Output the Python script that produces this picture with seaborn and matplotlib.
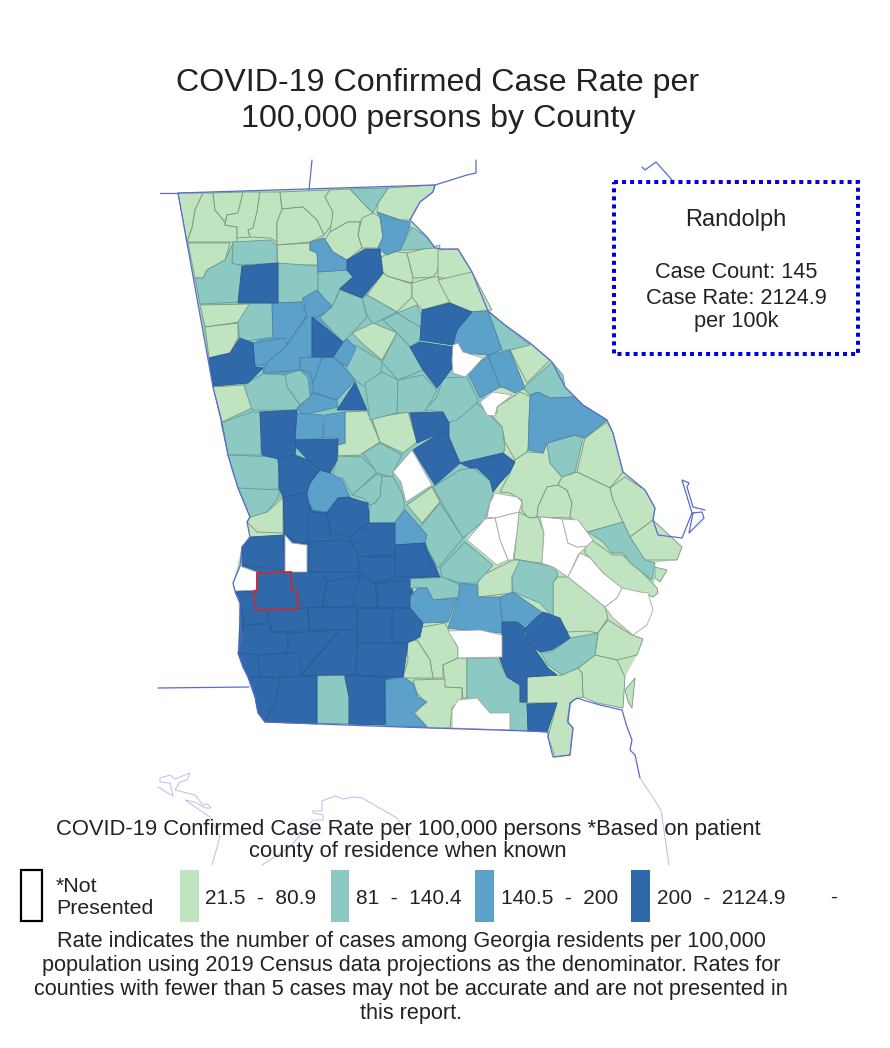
import matplotlib
matplotlib.use('Agg')
import matplotlib.pyplot as plt
from matplotlib.patches import Rectangle
import seaborn as sns

# county outlines, one list per rate class (x, y in picture pixels)
low_counties = [
    [(178,193),(203,193),(195,210),(192,228),(187,242)],
    [(203,193),(213,193),(215,210),(225,222),(225,225),(237,227),(237,242),(187,242),(192,228),(195,210)],
    [(213,193),(243,192),(238,213),(227,215),(225,222),(215,210)],
    [(243,192),(260,192),(257,212),(253,228),(248,230),(250,237),(237,238),(237,227),(225,225),(227,215),(238,213)],
    [(260,192),(280,192),(282,210),(277,222),(277,242),(270,238),(250,237),(248,230),(253,228),(257,212)],
    [(280,192),(330,190),(325,197),(333,212),(333,223),(324,235),(317,220),(303,207),(282,209)],
    [(282,209),(303,207),(317,220),(324,235),(310,242),(277,245),(277,222)],
    [(330,190),(350,189),(363,203),(373,213),(360,222),(348,222),(330,232),(333,212),(325,197)],
    [(388,188),(435,185),(433,192),(420,202),(410,220),(400,220),(377,212),(378,203)],
    [(362,218),(373,213),(380,217),(383,237),(378,248),(362,248),(358,235)],
    [(330,232),(348,222),(360,222),(358,235),(362,248),(347,260),(333,252),(325,240)],
    [(277,245),(310,243),(310,250),(317,253),(318,265),(278,265)],
    [(188,243),(230,243),(225,260),(207,270),(203,278),(195,278)],
    [(380,258),(392,251),(407,253),(413,277),(412,283),(387,276),(380,270)],
    [(407,253),(440,245),(438,270),(433,277),(415,278),(413,277)],
    [(438,250),(458,249),(472,272),(453,280),(438,277)],
    [(383,273),(387,276),(412,284),(412,297),(397,312),(367,295)],
    [(412,283),(433,277),(438,277),(450,302),(422,310),(412,297)],
    [(438,280),(472,272),(492,310),(470,312),(450,303)],
    [(200,305),(250,304),(240,322),(205,327)],
    [(205,327),(238,323),(238,338),(230,353),(209,358)],
    [(213,387),(244,385),(252,408),(222,422)],
    [(352,333),(373,323),(397,333),(382,360),(364,345)],
    [(345,412),(367,411),(380,442),(360,455),(338,456),(338,445),(345,443)],
    [(372,418),(408,412),(417,442),(403,453),(380,442)],
    [(250,517),(267,512),(277,503),(283,497),(283,533),(257,532),(247,522)],
    [(407,505),(432,487),(440,502),(422,523)],
    [(510,350),(530,343),(550,360),(527,383)],
    [(497,407),(520,392),(532,397),(529,420),(530,443),(527,452),(515,460),(505,442),(502,427),(492,416),(497,413)],
    [(585,438),(607,422),(613,433),(623,472),(610,488),(577,472)],
    [(515,460),(527,452),(543,453),(547,443),(550,463),(562,477),(558,485),(547,487),(538,507),(537,517),(528,518),(522,510),(522,500),(510,493),(500,492),(510,473)],
    [(547,487),(558,485),(567,490),(572,503),(570,518),(537,517),(538,507)],
    [(562,477),(577,472),(610,488),(613,500),(623,522),(588,532),(570,517),(572,503),(567,490),(558,485)],
    [(610,488),(625,477),(645,490),(655,508),(653,520),(630,537),(623,522),(613,500)],
    [(630,537),(653,520),(682,547),(677,560),(645,560),(640,553)],
    [(655,567),(667,570),(660,582),(655,578)],
    [(585,543),(593,541),(613,555),(622,555),(635,565),(657,588),(658,593),(653,597),(640,592),(627,592),(615,583),(603,573),(590,558),(585,553)],
    [(519,512),(530,518),(538,517),(544,533),(542,563),(532,562),(514,559),(517,532)],
    [(478,577),(483,575),(513,560),(520,560),(520,570),(512,577),(512,593),(478,597)],
    [(553,582),(558,577),(568,577),(588,593),(605,607),(608,618),(598,633),(587,631),(568,632),(553,617)],
    [(417,628),(445,623),(458,648),(458,658),(443,665),(443,678),(433,678),(430,660),(417,640)],
    [(407,642),(417,640),(430,660),(433,678),(403,678),(408,660)],
    [(443,665),(458,658),(467,658),(467,698),(463,698),(462,688),(445,687)],
    [(413,680),(445,679),(445,687),(462,688),(462,698),(452,708),(450,728),(428,728),(415,713),(425,702),(417,693)],
    [(598,633),(608,620),(632,635),(643,639),(637,655),(617,660),(595,655)],
    [(578,668),(595,655),(617,660),(625,677),(623,708),(597,703),(583,697),(582,673)],
    [(527,677),(562,675),(578,668),(582,673),(583,697),(573,700),(570,703),(567,722),(573,728),(570,755),(555,757),(548,737),(557,703),(527,703)],
    [(625,690),(635,678),(632,708),(628,702)],
]

mid_counties = [
    [(350,189),(388,188),(378,203),(373,213),(363,203)],
    [(400,250),(412,227),(427,237),(435,248),(410,250)],
    [(233,242),(270,240),(277,245),(277,263),(238,265),(232,263),(232,253)],
    [(233,243),(232,263),(242,266),(238,302),(200,304),(195,278),(203,278),(207,270),(225,260)],
    [(278,263),(318,266),(318,300),(303,298),(302,302),(278,303)],
    [(318,272),(347,270),(353,277),(340,288),(333,305),(318,298)],
    [(362,298),(367,295),(397,312),(373,324),(367,315)],
    [(340,290),(362,298),(367,317),(352,333),(343,342),(320,318),(333,305)],
    [(250,303),(272,303),(273,337),(240,342),(238,322)],
    [(343,367),(355,345),(382,361),(381,372),(365,387),(355,380)],
    [(397,313),(417,305),(423,320),(422,328),(408,320)],
    [(383,320),(397,313),(408,320),(422,328),(420,340),(410,347),(397,333)],
    [(397,333),(410,347),(423,370),(398,380),(382,362)],
    [(488,311),(505,325),(530,345),(510,350),(502,350)],
    [(523,388),(552,362),(563,375),(565,387),(575,397),(550,398),(538,392),(530,395)],
    [(547,443),(575,435),(583,438),(575,472),(562,477),(550,463)],
    [(285,375),(300,370),(308,378),(310,397),(300,405),(287,387)],
    [(244,385),(263,374),(285,375),(287,387),(300,405),(297,410),(252,410)],
    [(221,423),(252,412),(260,412),(261,455),(228,455)],
    [(228,455),(278,457),(279,489),(257,490),(238,488),(233,472)],
    [(238,488),(280,490),(277,500),(267,512),(250,517),(243,500)],
    [(332,477),(338,456),(362,457),(377,472),(353,495),(348,488),(343,478)],
    [(352,495),(377,474),(382,476),(380,497),(375,503),(370,505),(363,498)],
    [(382,476),(393,477),(402,493),(405,508),(395,523),(369,523),(370,505),(375,503),(380,497)],
    [(363,453),(380,443),(402,455),(393,472),(393,477),(377,473)],
    [(365,383),(382,372),(398,380),(397,413),(370,420)],
    [(398,380),(423,375),(437,390),(425,412),(397,413)],
    [(449,423),(477,403),(492,417),(502,427),(505,448),(503,453),(460,463),(448,435)],
    [(425,410),(437,397),(443,378),(467,377),(478,400),(477,403),(457,420),(445,423),(443,412)],
    [(433,487),(460,470),(473,468),(493,483),(493,493),(485,520),(463,538),(452,520)],
    [(420,527),(440,503),(453,523),(463,538),(438,568),(428,550)],
    [(440,568),(465,542),(493,565),(477,583),(460,583),(442,577)],
    [(520,560),(555,567),(558,575),(553,583),(553,617),(540,603),(513,592),(512,577)],
    [(410,579),(443,577),(460,585),(460,597),(433,600),(427,588),(410,588)],
    [(588,532),(623,522),(630,537),(645,560),(655,563),(652,580),(630,563),(623,553),(612,553),(603,542)],
    [(317,676),(344,675),(349,697),(349,724),(317,723)],
    [(467,658),(497,658),(507,677),(520,685),(520,702),(527,703),(528,731),(510,730),(510,715),(490,713),(477,700),(467,698)],
    [(540,652),(552,652),(570,638),(598,633),(595,655),(578,668),(562,675),(548,665)],
]

high_counties = [
    [(377,212),(400,220),(410,222),(410,227),(400,250),(387,255),(378,248),(383,237),(380,217)],
    [(310,242),(324,238),(333,252),(347,260),(347,270),(318,272),(317,253),(310,250)],
    [(452,333),(470,312),(488,311),(502,350),(488,355),(463,353),(453,343)],
    [(468,373),(488,355),(500,387),(480,398)],
    [(488,355),(510,350),(525,388),(515,393),(505,388),(500,387)],
    [(530,395),(538,392),(550,398),(575,397),(583,405),(607,420),(585,438),(575,435),(547,443),(543,453),(528,450),(529,420)],
    [(272,303),(302,302),(307,315),(288,343),(273,337)],
    [(303,298),(317,290),(332,307),(318,317),(312,317),(312,357),(300,358),(300,370),(263,373),(267,363),(285,347),(307,317)],
    [(253,343),(285,338),(287,345),(267,363),(255,367)],
    [(347,339),(356,348),(347,367),(333,357),(342,343)],
    [(300,358),(320,357),(322,367),(313,383),(310,372),(300,370)],
    [(322,358),(333,357),(347,370),(355,380),(337,400),(313,392),(313,383)],
    [(312,393),(337,400),(338,407),(303,415),(297,408),(310,397)],
    [(297,413),(323,415),(323,438),(295,440)],
    [(325,415),(345,412),(345,443),(338,445),(338,438),(323,438)],
    [(320,470),(330,473),(342,480),(350,497),(338,498),(327,512),(313,510),(305,495),(310,483)],
    [(395,522),(405,510),(427,535),(425,543),(395,545)],
    [(500,597),(513,592),(543,613),(523,627),(515,622),(503,622),(501,610)],
    [(460,583),(477,585),(478,597),(500,597),(501,610),(503,633),(465,630),(448,628),(458,598)],
    [(409,598),(418,588),(427,588),(433,600),(457,598),(448,622),(423,623),(409,610)],
    [(385,680),(403,677),(413,683),(418,697),(427,702),(413,713),(427,727),(386,726)],
]

top_counties = [
    [(242,266),(278,263),(278,303),(238,303)],
    [(347,260),(365,249),(380,249),(383,273),(362,298),(340,289),(353,277),(347,270)],
    [(209,358),(230,353),(240,338),(253,343),(255,367),(263,368),(248,383),(213,386)],
    [(312,317),(343,342),(333,357),(312,357)],
    [(355,382),(367,410),(337,410),(352,387)],
    [(422,310),(450,303),(472,312),(457,330),(453,345),(420,340)],
    [(410,347),(420,342),(453,347),(452,357),(453,367),(437,388),(423,370)],
    [(260,412),(297,410),(295,440),(296,447),(295,455),(278,459),(262,455)],
    [(295,440),(338,439),(337,460),(330,473),(320,470),(308,460),(296,447)],
    [(278,459),(295,455),(308,460),(320,470),(310,483),(307,493),(283,497),(279,488),(279,473)],
    [(283,497),(307,493),(310,510),(308,543),(297,543),(285,534)],
    [(308,512),(328,513),(330,533),(332,542),(308,543)],
    [(327,513),(338,498),(348,497),(368,503),(369,522),(350,537),(333,533),(330,528)],
    [(350,537),(368,523),(395,523),(395,555),(358,557)],
    [(395,545),(425,543),(428,560),(440,577),(395,577)],
    [(310,542),(348,540),(357,552),(360,572),(320,572),(308,570)],
    [(358,557),(395,557),(395,578),(376,583),(360,573)],
    [(242,547),(250,537),(283,535),(285,570),(242,565)],
    [(257,573),(291,572),(292,590),(297,592),(298,609),(256,610),(253,592),(257,590)],
    [(235,592),(253,592),(256,610),(268,610),(268,623),(245,625),(240,603)],
    [(268,610),(307,608),(310,630),(272,632)],
    [(291,572),(323,572),(327,582),(322,607),(299,608),(297,592),(291,590)],
    [(327,582),(360,575),(353,607),(323,607)],
    [(360,578),(375,583),(377,607),(357,608),(352,600)],
    [(377,583),(410,580),(410,608),(377,607)],
    [(308,608),(357,607),(357,630),(310,630)],
    [(357,608),(392,608),(392,643),(357,643)],
    [(392,610),(410,608),(423,623),(420,637),(407,643),(392,643)],
    [(243,625),(268,624),(272,632),(288,633),(288,653),(258,655),(238,653),(242,637)],
    [(288,633),(340,630),(300,675),(300,655),(288,653)],
    [(340,630),(357,630),(356,675),(302,675)],
    [(357,643),(408,643),(403,677),(356,675)],
    [(258,655),(300,653),(301,677),(260,677)],
    [(238,653),(258,655),(260,677),(248,677),(243,667)],
    [(248,677),(280,678),(275,703),(265,722),(258,713),(255,697)],
    [(280,677),(317,676),(317,724),(265,722),(275,703)],
    [(345,676),(356,675),(385,678),(385,725),(349,724),(349,697)],
    [(410,413),(443,412),(449,423),(449,437),(440,433),(417,443)],
    [(413,450),(440,433),(448,435),(460,463),(435,485)],
    [(460,463),(503,453),(515,462),(510,472),(500,483),(493,492),(490,480),(477,468),(470,468)],
    [(502,622),(517,622),(525,628),(525,635),(548,668),(557,675),(527,677),(527,702),(520,702),(520,685),(507,677),(495,647),(502,643)],
    [(525,628),(543,612),(560,618),(570,638),(552,650),(540,652),(528,643)],
    [(527,704),(557,703),(547,732),(528,731)],
]

blank_counties = [
    [(453,345),(458,343),(463,352),(483,358),(472,370),(465,377),(453,373),(452,360)],
    [(480,402),(493,392),(512,395),(497,407),(495,416),(487,415)],
    [(393,472),(412,450),(432,485),(406,502),(401,482)],
    [(495,493),(517,497),(522,502),(519,512),(495,518),(487,517),(490,503)],
    [(495,518),(519,512),(517,532),(513,560),(508,560),(500,540)],
    [(467,540),(485,519),(495,518),(500,540),(508,560),(497,565)],
    [(540,517),(562,519),(568,543),(577,547),(587,546),(578,555),(568,577),(553,567),(542,563),(544,533)],
    [(562,519),(578,520),(593,540),(587,546),(577,547),(568,543)],
    [(568,577),(580,553),(590,558),(603,573),(622,588),(617,598),(605,607),(588,593)],
    [(622,588),(640,592),(648,593),(653,610),(647,625),(633,635),(613,618),(605,607),(617,598)],
    [(285,535),(292,543),(307,545),(307,572),(285,572)],
    [(240,566),(257,572),(257,590),(235,591),(233,583)],
    [(448,631),(480,630),(502,635),(502,657),(458,658),(458,647)],
    [(452,710),(458,700),(477,698),(490,713),(510,713),(510,730),(452,728)],
]

selected_county = top_counties[18]

# regions laid under the counties so the seams between traced shapes do not show white
state_under = [(178,193),(435,185),(433,192),(420,202),(410,220),(427,237),(435,248),(442,249),(458,249),(472,272),(488,311),
               (505,325),(530,343),(552,362),(565,387),(583,405),(607,420),(613,433),(623,472),(645,490),(655,508),(653,520),
               (682,547),(677,560),(653,563),(655,578),(653,597),(640,592),(633,635),(643,639),(637,655),(625,677),(623,708),
               (597,703),(583,697),(573,700),(567,722),(573,728),(570,755),(555,757),(548,732),(265,722),(248,677),(238,653),
               (240,603),(233,583),(242,547),(250,537),(247,522),(250,517),(238,488),(228,455),(213,387)]
centre_under = [(195,278),(345,270),(420,330),(470,350),(505,450),(495,490),(465,540),(493,565),(475,590),(410,580),(405,510),(350,497),(320,470),(283,497),(250,517),(228,455),(213,387)]
atlanta_under = [(272,303),(332,307),(343,342),(355,380),(337,400),(297,410),(263,373),(255,345)]
southwest_under = [(283,497),(350,497),(369,510),(395,523),(428,545),(440,577),(410,580),(423,623),(408,643),(403,677),(385,725),(265,722),(248,677),(238,653),(240,603),(235,592),(242,566),(242,547),(283,535)]

# state and neighbour lines
state_outline = [(178,193),(435,185),(433,192),(420,202),(410,220),(427,237),(435,248),(442,249),(458,249),(472,272),(488,311),
                 (505,325),(530,343),(552,362),(565,387),(583,405),(607,420),(613,433),(623,472),(645,490),(655,508),
                 (653,520),(658,535),(682,538),(692,513),(682,480),(689,483),(687,487),(693,507),(705,510)]
florida_line = [(265,722),(400,727),(528,731),(548,732),(548,737),(553,757),(570,755),(573,728),(568,722),(570,703),
                (577,698),(583,700),(600,705),(622,710),(627,727),(632,740),(630,750),(635,755),(640,778)]
west_line = [(265,722),(258,713),(255,697),(248,677),(243,667),(238,653),(242,637),(240,625),(240,603),(235,591),(233,583),
             (240,566),(242,547),(250,537),(247,522),(250,517),(243,500),(238,488),(233,472),(228,455),(222,423),(213,387),(178,193)]
island_line = [(693,513),(702,512),(704,518),(689,533),(693,513)]
north_line = [(160,193),(178,193)]
tn_line = [(312,160),(309,190)]
nc_line = [(435,185),(467,175),(476,173),(476,160)]
sc_line = [(642,167),(645,170),(656,162),(672,180)]
al_line = [(158,688),(249,687)]
faint_a = [(160,778),(170,775),(175,779),(190,773),(187,780),(180,782),(175,790),(195,795),(203,805),(208,804),(211,808),
           (205,808),(195,802),(185,800),(210,817),(220,837),(212,865)]
faint_b = [(158,787),(173,796),(170,783),(160,782),(160,778)]
faint_c = [(262,865),(290,847),(313,820),(323,820),(323,815),(313,813),(313,811),(322,811),(322,801),(335,796),(343,799),
           (352,797),(362,798),(397,818),(410,840)]
faint_d = [(640,778),(661,810),(669,865)]

class_colors = ['#c0e3c0', '#8cc9c3', '#5ca1ca', '#2f69aa']
edge_colors = ['#7b967e', '#6a9a96', '#4f82a8', '#2a5a94']
legend_labels = ['21.5  -  80.9', '81  -  140.4', '140.5  -  200', '200  -  2124.9']
legend_left = [180, 330.5, 475, 631]
legend_text_x = [205, 356, 501, 657]
title_lines = ['COVID-19 Confirmed Case Rate per', '100,000 persons by County']
title_y = [83, 119]
box_lines = ['Case Count: 145', 'Case Rate: 2124.9', 'per 100k']
box_y = [273, 298, 322]
legend_title_lines = ['COVID-19 Confirmed Case Rate per 100,000 persons *Based on patient', 'county of residence when known']
legend_title_y = [830, 852]
note_lines = ['Rate indicates the number of cases among Georgia residents per 100,000',
              'population using 2019 Census data projections as the denominator. Rates for',
              'counties with fewer than 5 cases may not be accurate and are not presented in',
              'this report.']
note_y = [942, 966, 990, 1013]

sns.set_theme(style='white')
plt.rcParams['font.family'] = ['Liberation Sans', 'DejaVu Sans']
ink = '#222222'

fig = plt.figure(figsize=(8.9, 10.48), dpi=100)
ax = fig.add_axes([0, 0, 1, 1])
ax.set_xlim(0, 890)
ax.set_ylim(1048, 0)
ax.axis('off')


def draw_line(points, color='#5a6bd0', lw=0.9):
    xs = [p[0] for p in points]
    ys = [p[1] for p in points]
    sns.lineplot(x=xs, y=ys, ax=ax, sort=False, estimator=None, color=color, linewidth=lw, legend=False, zorder=4)


# underlays
for shape, color in zip([state_under, centre_under, atlanta_under, southwest_under], class_colors):
    ax.fill(*zip(*shape), facecolor=color, edgecolor='none', zorder=1)

# counties
for shapes, color, edge in zip([low_counties, mid_counties, high_counties, top_counties], class_colors, edge_colors):
    for shape in shapes:
        ax.fill(*zip(*shape), facecolor=color, edgecolor=edge, linewidth=0.6, zorder=2)
for shape in blank_counties:
    ax.fill(*zip(*shape), facecolor='white', edgecolor='#a8a8a8', linewidth=0.6, zorder=3)

for line in [state_outline, florida_line, west_line, island_line, north_line, tn_line, nc_line, sc_line, al_line]:
    draw_line(line)
for line in [faint_a, faint_b, faint_c, faint_d]:
    draw_line(line, color='#c0c4ee', lw=0.8)

ax.fill(*zip(*selected_county), facecolor='none', edgecolor='#c0303a', linewidth=1.4, zorder=5)

# title
for line, y in zip(title_lines, title_y):
    ax.text(438, y, line, ha='center', va='center', fontsize=23.2, color=ink)

# hover box
ax.add_patch(Rectangle((614, 182), 244, 172, facecolor='white', edgecolor='#0000dd', linewidth=2.9,
                       linestyle=(0, (1, 1)), zorder=6))
ax.text(736, 220, 'Randolph', ha='center', va='center', fontsize=17, color=ink, zorder=7)
for line, y in zip(box_lines, box_y):
    ax.text(736, y, line, ha='center', va='center', fontsize=15.7, color=ink, zorder=7)

# legend
for line, y in zip(legend_title_lines, legend_title_y):
    ax.text(408, y, line, ha='center', va='center', fontsize=15.8, color=ink, zorder=7)
ax.add_patch(Rectangle((21, 870), 21, 51, facecolor='white', edgecolor='black', linewidth=1.6, zorder=7))
ax.text(56, 886, '*Not', ha='left', va='center', fontsize=15.4, color=ink, zorder=7)
ax.text(56, 909, 'Presented', ha='left', va='center', fontsize=15.4, color=ink, zorder=7)
for left, text_x, label, color in zip(legend_left, legend_text_x, legend_labels, class_colors):
    ax.add_patch(Rectangle((left, 870), 18.5, 52, facecolor=color, edgecolor='none', zorder=7))
    ax.text(text_x, 898, label, ha='left', va='center', fontsize=15, color=ink, zorder=7)
ax.text(834, 897, '-', ha='center', va='center', fontsize=15, color=ink, zorder=7)

for line, y in zip(note_lines, note_y):
    ax.text(411, y, line, ha='center', va='center', fontsize=15.6, color=ink, zorder=7)

fig.savefig('out.png', dpi=100)
